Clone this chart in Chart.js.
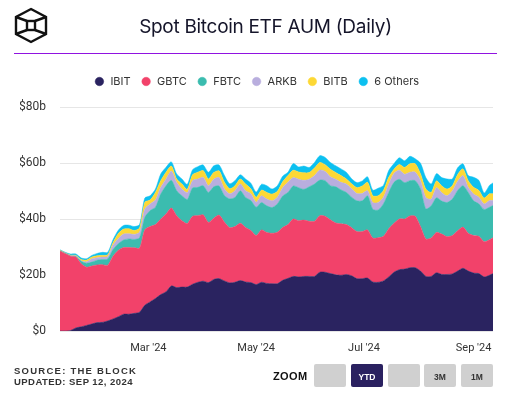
<!DOCTYPE html>
<html>
<head>
<meta charset="utf-8">
<title>Spot Bitcoin ETF AUM (Daily)</title>
<script src="https://cdn.jsdelivr.net/npm/chart.js@4/dist/chart.umd.min.js"></script>
<style>
  html, body { margin: 0; padding: 0; background: #fff; overflow: hidden; }
  #wrap { position: relative; width: 505px; height: 394px; font-family: "Liberation Sans", sans-serif; }
  #line_graph { position: absolute; left: 0; top: 0; }
  #logo { position: absolute; left: 14px; top: 7px; }
  #title { position: absolute; left: 100px; width: 331px; top: 12px; text-align: center; font: 19px/30px Inter, sans-serif; letter-spacing: -0.3px; color: #15152a; }
  #rule { position: absolute; left: 14px; top: 53px; width: 483px; height: 1px; background: #9013e0; }
  .source { position: absolute; left: 14px; font: bold 9.5px/12px "Liberation Sans", sans-serif; letter-spacing: 0.45px; color: #333; white-space: nowrap; }
  #zoom_label { position: absolute; left: 273px; top: 369px; font: bold 11px/14px "Liberation Sans", sans-serif; letter-spacing: 0.4px; color: #111; }
  .btn { position: absolute; top: 364px; width: 32px; height: 23px; border-radius: 2px; background: #d0d0d0; color: #333; font: bold 8.5px/26px "Liberation Sans", sans-serif; text-align: center; }
  .btn.on { background: #2a2160; color: #fff; }
</style>
</head>
<body>
<div id="wrap">
  <canvas id="line_graph" width="505" height="394"></canvas>
  <svg id="logo" width="36" height="38" viewBox="0 0 36 38" fill="none" stroke="#111" stroke-width="2.4">
    <path d="M17 2 L32 10 L32 27 L17 35 L2 27 L2 10 Z"/>
    <rect x="13" y="14" width="8" height="9"/>
    <path d="M2 10 L13 14 M32 10 L21 14 M2 27 L13 23 M32 27 L21 23"/>
  </svg>
  <div id="title">Spot Bitcoin ETF AUM (Daily)</div>
  <div id="rule"></div>
  <div class="source" style="top:365px;letter-spacing:1.25px">SOURCE: THE BLOCK</div>
  <div class="source" style="top:376px">UPDATED: SEP 12, 2024</div>
  <div id="zoom_label">ZOOM</div>
  <div class="btn" style="left:314px"></div>
  <div class="btn on" style="left:351px">YTD</div>
  <div class="btn" style="left:388px"></div>
  <div class="btn" style="left:424px">3M</div>
  <div class="btn" style="left:461px">1M</div>
</div>
<script>
// days since Jan 1 2024, one sample every 3 days, last one is Sep 12
var days = [10,13,16,19,22,25,28,31,34,37,40,43,46,49,52,55,58,61,64,67,70,73,76,79,82,85,88,91,94,97,100,103,106,109,112,115,118,121,124,127,130,133,136,139,142,145,148,151,154,157,160,163,166,169,172,175,178,181,184,187,190,193,196,199,202,205,208,211,214,217,220,223,226,229,232,235,238,241,244,247,250,253,255];

// AUM in $ billions
var ibit = [0,0,0.2,1.1,1.5,2.0,2.5,3.0,3.1,3.6,4.3,5.1,6.0,6.0,6.3,6.7,9.2,10.4,11.6,13.0,14.0,16.1,15.5,15.7,15.7,16.7,17.4,17.8,17.3,18.4,18.7,17.9,17.2,17.4,18.0,17.5,17.3,16.6,17.4,17.0,16.9,16.9,18.1,18.8,19.5,19.3,19.5,19.5,19.5,21.0,21.0,20.5,20.1,19.9,20.2,19.7,18.7,18.7,18.9,17.5,17.4,17.9,19.3,21.0,21.9,22.1,22.6,22.6,21.4,19.5,19.5,20.8,20.2,20.2,20.4,21.4,22.4,21.4,20.7,20.5,19.3,19.9,20.5];
var gbtc = [28.5,27.6,26.5,25.3,22.5,20.8,20.7,20.6,20.6,19.9,22.4,23.7,23.8,23.8,23.4,22.9,27.0,26.9,26.4,27.0,27.8,27.8,25.7,23.7,22.7,24.3,23.8,23.7,21.5,21.9,22.7,21.0,19.7,19.9,20.5,19.5,18.6,17.5,18.7,18.2,18.0,18.4,18.9,19.2,20.5,20.1,20.1,19.7,19.7,20.2,20.0,19.2,18.5,18.4,17.8,17.2,16.8,16.8,17.2,15.7,15.9,15.9,17.2,17.5,18.1,17.9,18.5,18.4,15.9,13.4,13.7,14.4,14.4,13.5,13.7,14.4,14.7,13.5,13.4,13.3,12.6,12.7,12.8];
var fbtc = [0.1,0.1,0.1,0.2,0.9,1.4,1.4,1.7,1.8,2.2,2.4,2.4,2.7,3.1,3.0,3.7,4.4,5.7,6.2,8.9,10.1,9.9,8.9,8.9,8.6,10.1,10.1,10.4,10.7,11.2,10.4,9.5,10.3,10.4,11.6,10.7,10.7,10.1,9.8,9.5,9.2,10.1,11.2,11.5,11.8,11.8,11.0,12.3,13.3,12.7,12.7,12.2,12.9,12.1,11.5,10.9,11.0,11.0,12.2,10.3,9.9,11.6,13.0,14.6,14.2,13.0,12.6,12.7,13.4,10.7,11.5,12.4,11.8,12.2,13.0,14.4,14.8,14.6,12.4,11.6,11.5,11.6,11.5];
var arkb = [0.1,0.1,0.1,0.2,0.2,0.5,1.2,0.9,0.9,0.9,1.5,1.8,2.1,1.8,1.8,2.0,3.0,2.4,2.6,2.4,2.4,3.3,3.0,2.4,2.4,2.6,3.0,3.0,2.4,2.7,3.0,2.4,1.8,2.4,2.4,2.4,2.4,1.8,2.4,2.4,2.4,2.4,3.0,3.6,3.0,3.0,3.2,2.7,3.0,3.6,3.3,3.2,2.7,2.7,3.0,3.0,2.6,2.6,1.8,2.4,2.7,2.4,3.0,3.2,3.2,3.0,3.0,3.0,3.0,4.1,2.4,3.6,3.0,2.4,3.0,3.3,3.6,1.8,2.4,2.4,2.0,2.4,1.8];
var bitb = [0.1,0.1,0.2,0.2,0.4,0.6,0.6,0.7,0.6,0.6,0.9,1.8,1.8,1.8,1.4,1.5,2.4,1.4,2.7,2.4,2.4,1.8,1.2,1.8,1.2,2.1,2.4,2.4,2.4,2.4,2.4,2.4,1.8,1.8,1.8,2.4,1.8,1.8,2.0,2.4,2.4,2.1,2.1,2.4,2.6,2.6,2.7,2.4,2.7,2.7,2.4,2.7,2.4,2.4,1.8,1.8,2.1,2.7,3.0,2.4,2.4,2.4,2.4,1.5,2.1,2.4,3.0,3.0,2.4,3.0,2.4,2.4,2.4,2.4,1.8,2.4,2.4,2.4,2.4,2.4,2.1,2.4,2.4];
var others = [0.2,0.2,0.4,0.5,0.6,0.5,0.6,0.8,1.1,0.9,1.1,1.2,1.3,1.3,1.4,1.2,1.5,1.5,1.2,2.4,1.8,1.5,1.8,1.8,1.8,1.8,2.0,2.0,2.4,2.4,2.1,2.4,1.8,1.8,1.5,1.8,2.0,1.8,2.1,2.4,1.8,2.0,2.0,1.2,2.4,1.8,2.4,1.8,2.0,2.4,2.6,2.4,2.4,2.4,2.4,1.8,1.8,1.8,2.0,2.0,2.7,1.8,2.4,2.0,2.4,2.4,2.7,1.8,3.8,4.1,3.0,2.6,3.0,3.6,2.4,2.4,1.8,1.8,3.6,3.6,1.8,3.0,3.9];

var month_ticks = [60, 121, 182, 244];
var month_labels = ["Mar '24", "May '24", "Jul '24", "Sep '24"];
var y_ticks = [0, 20, 40, 60, 80];

function points(values) {
  var out = [];
  for (var i = 0; i < days.length; i++) {
    out.push({x: days[i], y: values[i]});
  }
  return out;
}

function series(label, values, color, fill) {
  return {
    label: label,
    data: points(values),
    backgroundColor: color,
    borderColor: color,
    borderWidth: 0.5,
    pointRadius: 0,
    tension: 0.25,
    fill: fill
  };
}

// extra room under the legend
var legend_gap = {
  id: 'legend_gap',
  beforeInit: function(chart) {
    var fit = chart.legend.fit;
    chart.legend.fit = function() {
      fit.call(this);
      this.height += 10;
    };
  }
};

var ctx = document.getElementById("line_graph");
var line_graph = new Chart(ctx, {
  type: 'line',
  plugins: [legend_gap],
  data: {
    datasets: [
      series("IBIT", ibit, "#2a2360", "origin"),
      series("GBTC", gbtc, "#f2426a", "-1"),
      series("FBTC", fbtc, "#3bbcaf", "-1"),
      series("ARKB", arkb, "#b9aede", "-1"),
      series("BITB", bitb, "#fdd835", "-1"),
      series("6 Others", others, "#0cc0f0", "-1")
    ]
  },
  options: {
    responsive: false,
    animation: false,
    layout: {padding: {top: 66, left: 20, right: 12}},
    plugins: {
      tooltip: {enabled: false},
      legend: {
        position: 'top',
        labels: {
          usePointStyle: true,
          pointStyle: 'circle',
          boxWidth: 11,
          boxHeight: 6,
          padding: 10,
          color: "#333",
          font: {family: "Inter", size: 11}
        }
      }
    },
    scales: {
      x: {
        type: 'linear',
        min: 10,
        max: 255,
        grid: {display: false},
        border: {display: false},
        afterBuildTicks: function(axis) {
          axis.ticks = month_ticks.map(function(v) { return {value: v}; });
        },
        afterFit: function(axis) { axis.height = 63; },
        ticks: {
          autoSkip: false,
          maxRotation: 0,
          padding: 3,
          color: "#333",
          font: {family: "Roboto", size: 11},
          callback: function(value) { return month_labels[month_ticks.indexOf(value)]; }
        }
      },
      y: {
        stacked: true,
        min: 0,
        max: 80,
        grid: {color: "#e6e6e6", drawTicks: false},
        border: {display: false},
        afterBuildTicks: function(axis) {
          axis.ticks = y_ticks.map(function(v) { return {value: v}; });
        },
        afterFit: function(axis) { axis.width = 40; },
        ticks: {
          padding: 14,
          color: "#333",
          font: {family: "Roboto", size: 12},
          callback: function(value) { return value == 0 ? "$0" : "$" + value + "b"; }
        }
      }
    }
  }
});
</script>
</body>
</html>
